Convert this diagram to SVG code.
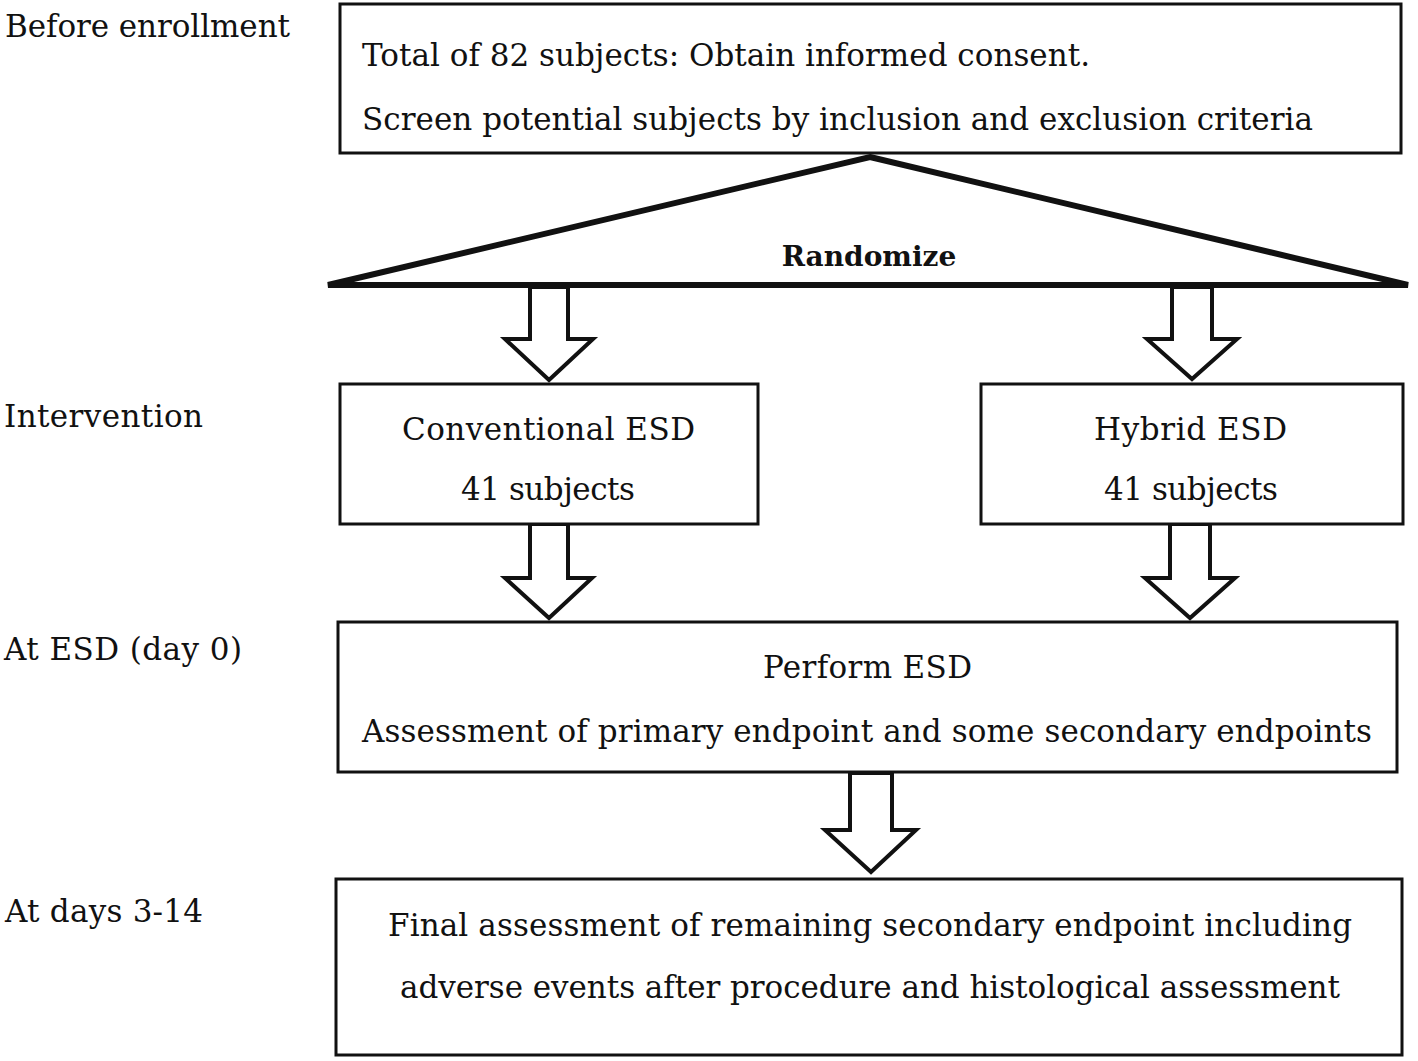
<svg xmlns="http://www.w3.org/2000/svg" width="1418" height="1061" viewBox="0 0 1418 1061">
<style>
text{font-family:"DejaVu Serif","Liberation Serif",serif;font-size:31px;fill:#111}
.box{fill:#fff;stroke:#111;stroke-width:3}
.arr{fill:#fff;stroke:#111;stroke-width:4;stroke-linejoin:miter}
.tri{fill:#fff;stroke:#111;stroke-width:6;stroke-linejoin:miter}
.c{text-anchor:middle}
.b{font-weight:bold;font-size:28px}
</style>
<rect width="1418" height="1061" fill="#fff"/>
<g id="labels">
<text x="5" y="37" textLength="285" lengthAdjust="spacing">Before enrollment</text>
<text x="4" y="427" textLength="199" lengthAdjust="spacing">Intervention</text>
<text x="4" y="660" textLength="238" lengthAdjust="spacing">At ESD (day 0)</text>
<text x="5" y="922" textLength="198" lengthAdjust="spacing">At days 3-14</text>
</g>
<g id="connectors">
<polygon class="tri" points="870,157 1408,285 328,285"/>
<polygon class="arr" points="530,287 568,287 568,339 593,339 549,380 505,339 530,339"/>
<polygon class="arr" points="1172,287 1212,287 1212,339 1237,339 1192,379 1147,339 1172,339"/>
<polygon class="arr" points="530,524 568,524 568,578 592,578 549,618 505,578 530,578"/>
<polygon class="arr" points="1170,524 1210,524 1210,578 1235,578 1190,618 1145,578 1170,578"/>
<polygon class="arr" points="850,773 892,773 892,830 916,830 871,872 825,830 850,830"/>
</g>
<g id="randomize">
<text class="c b" x="869" y="266">Randomize</text>
</g>
<g id="enroll">
<rect class="box" x="340" y="4" width="1061" height="149"/>
<text x="362" y="66" textLength="728" lengthAdjust="spacing">Total of 82 subjects: Obtain informed consent.</text>
<text x="362" y="130" textLength="951" lengthAdjust="spacing">Screen potential subjects by inclusion and exclusion criteria</text>
</g>
<g id="conventional">
<rect class="box" x="340" y="384" width="418" height="140"/>
<text x="402" y="440" textLength="293" lengthAdjust="spacing">Conventional ESD</text>
<text x="461" y="500" textLength="174" lengthAdjust="spacing">41 subjects</text>
</g>
<g id="hybrid">
<rect class="box" x="981" y="384" width="422" height="140"/>
<text x="1094" y="440" textLength="193" lengthAdjust="spacing">Hybrid ESD</text>
<text x="1104" y="500" textLength="174" lengthAdjust="spacing">41 subjects</text>
</g>
<g id="perform">
<rect class="box" x="338" y="622" width="1059" height="150"/>
<text x="763" y="678" textLength="209" lengthAdjust="spacing">Perform ESD</text>
<text x="362" y="742" textLength="1010" lengthAdjust="spacing">Assessment of primary endpoint and some secondary endpoints</text>
</g>
<g id="final">
<rect class="box" x="336" y="879" width="1066" height="176"/>
<text x="388" y="936" textLength="964" lengthAdjust="spacing">Final assessment of remaining secondary endpoint including</text>
<text x="400" y="998" textLength="940" lengthAdjust="spacing">adverse events after procedure and histological assessment</text>
</g>
</svg>
